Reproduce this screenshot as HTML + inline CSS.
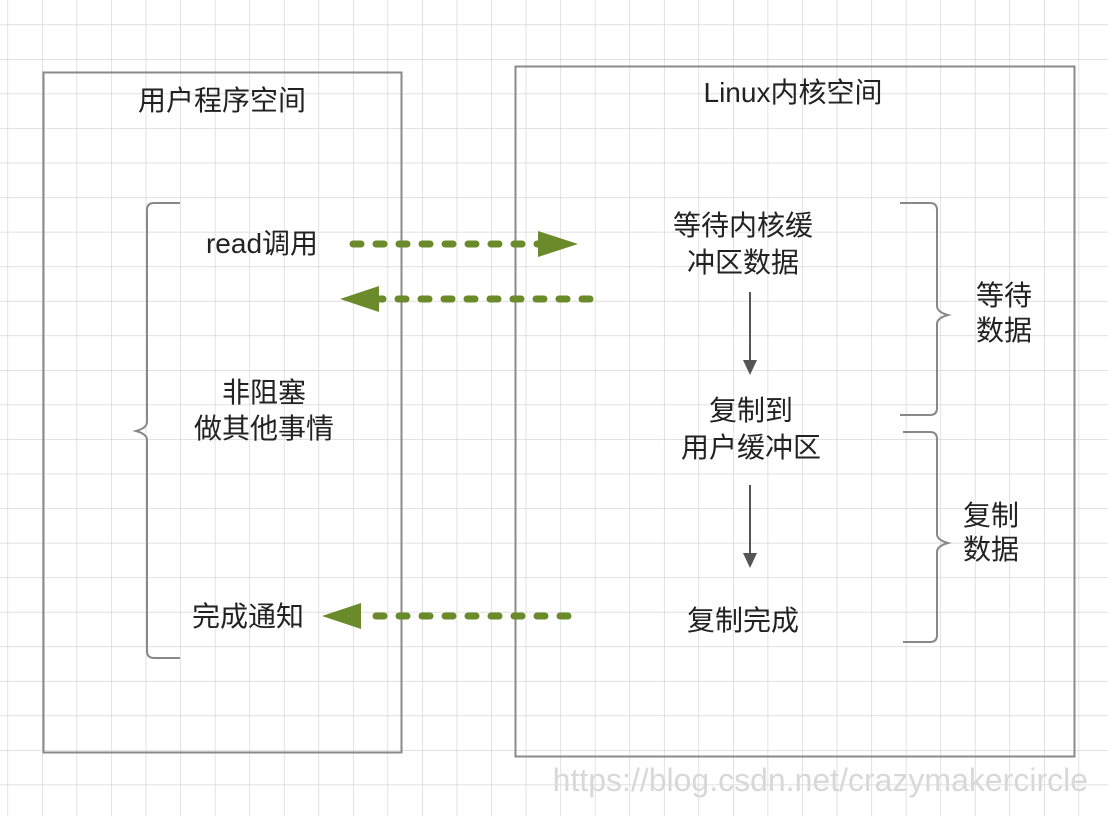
<!DOCTYPE html>
<html><head><meta charset="utf-8"><style>
html,body{margin:0;padding:0;background:#fff;}
svg{display:block;}
text{font-family:"Liberation Sans","Noto Sans CJK SC",sans-serif;fill:#222;}
</style></head><body>
<svg width="1108" height="816" viewBox="0 0 1108 816" xmlns="http://www.w3.org/2000/svg">
<defs>
<pattern id="g" x="7.5" y="24.5" width="34.55" height="34.55" patternUnits="userSpaceOnUse">
<path d="M0 0V34.55M0 0H34.55" stroke="#cfcfcf" stroke-width="1.2" fill="none"/>
</pattern>
</defs>
<rect width="1108" height="816" fill="#fff"/>
<rect width="1108" height="816" fill="url(#g)"/>
<rect x="43.5" y="72.5" width="358" height="680" fill="none" stroke="#8a8a8a" stroke-width="2"/>
<rect x="515.5" y="66.5" width="559" height="690" fill="none" stroke="#8a8a8a" stroke-width="2"/>
<text x="222" y="110" font-size="28" text-anchor="middle">用户程序空间</text>
<text x="793" y="102" font-size="28" text-anchor="middle">Linux内核空间</text>
<path d="M180 203 H154 Q147 203 147 210 V422 Q147 428 136 431 Q147 434 147 440 V651 Q147 658 154 658 H180" fill="none" stroke="#888" stroke-width="2"/>
<path d="M900 203 H930 Q937 203 937 210 V306 Q937 312 948 315 Q937 318 937 324 V408 Q937 415 930 415 H900" fill="none" stroke="#888" stroke-width="2"/>
<path d="M903 432 H930 Q937 432 937 439 V534 Q937 540 948 543 Q937 546 937 552 V635 Q937 642 930 642 H903" fill="none" stroke="#888" stroke-width="2"/>
<g stroke="#6b8a2a" stroke-width="7" stroke-linecap="round" stroke-dasharray="8 15" fill="none">
<line x1="353" y1="244" x2="542" y2="244"/>
<line x1="590" y1="299" x2="380" y2="299"/>
<line x1="568" y1="616" x2="362" y2="616"/>
</g>
<g fill="#6b8a2a">
<polygon points="538,231 578,244 538,257"/>
<polygon points="379,286 340,299 379,312"/>
<polygon points="361,603 322,616 361,629"/>
</g>
<g stroke="#555" stroke-width="2">
<line x1="750" y1="292" x2="750" y2="362"/>
<line x1="750" y1="485" x2="750" y2="555"/>
</g>
<g fill="#555">
<polygon points="743,360 750,375 757,360"/>
<polygon points="743,553 750,568 757,553"/>
</g>
<g font-size="28">
<text x="262" y="253" text-anchor="middle">read调用</text>
<text x="264" y="402" text-anchor="middle">非阻塞</text>
<text x="264" y="438" text-anchor="middle">做其他事情</text>
<text x="248" y="626" text-anchor="middle">完成通知</text>
<text x="743" y="235" text-anchor="middle">等待内核缓</text>
<text x="743" y="272" text-anchor="middle">冲区数据</text>
<text x="751" y="420" text-anchor="middle">复制到</text>
<text x="751" y="457" text-anchor="middle">用户缓冲区</text>
<text x="743" y="630" text-anchor="middle">复制完成</text>
<text x="1004" y="305" text-anchor="middle">等待</text>
<text x="1004" y="340" text-anchor="middle">数据</text>
<text x="991" y="525" text-anchor="middle">复制</text>
<text x="991" y="559" text-anchor="middle">数据</text>
</g>
<text x="1088" y="791" font-size="32" text-anchor="end" style="fill:#d8d8d8">https://blog.csdn.net/crazymakercircle</text>
</svg>
</body></html>
